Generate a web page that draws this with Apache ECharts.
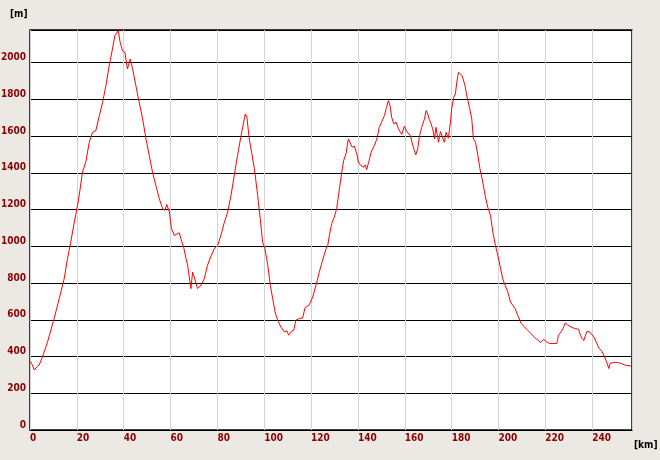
<!DOCTYPE html>
<html>
<head>
<meta charset="utf-8">
<script src="https://cdn.jsdelivr.net/npm/echarts@6/dist/echarts.min.js"></script>
<style>html,body{margin:0;padding:0;background:#ECE9E4;}#c{width:660px;height:460px;}</style>
</head>
<body>
<div id="c"></div>
<script>
var distanceKm = [0,1,1.8,3,3.9,5.3,7.5,10.3,12.5,14.6,16,17.4,18.9,20.3,21.4,22.4,23.8,25.3,26.7,28.1,29.6,31,32.4,33.8,35.2,36.2,37.7,38.5,39.5,40.5,41.6,42.8,43.8,45.2,46.6,48.1,49.5,50.9,52.3,53.7,55.2,56.6,57.6,58.4,59.5,60.4,61.6,62.3,63.7,64.4,65.6,66.6,67.3,68.1,68.4,68.7,69.4,70.1,71.5,73,74.4,75.8,77.2,78.7,80.1,81.5,83,84.4,85.8,87.2,88.6,90.1,91.2,91.9,92.6,93.6,94.6,95.8,97.2,98.3,99.3,100.3,101.5,102.6,103.6,104.6,105.7,107.1,108.6,109.7,110.4,111.7,112.6,113.5,115,116.4,117.4,119.3,120.7,122.1,123.5,124.9,126.4,127.1,127.8,128.8,129.9,130.9,132.1,133.1,133.9,134.9,135.9,136.6,137.5,138.5,139.5,140.2,141.3,142.5,143.2,143.7,144.6,145.6,147,148.1,149.1,150.1,151.3,152.2,153,153.7,154.4,155.3,156.3,156.7,157.3,158.1,158.7,159.8,160.8,161.6,162.4,163.4,164.1,164.7,165.5,166.3,167.2,168.4,169.1,169.8,170.5,171,171.9,172.7,173.3,174.4,175.2,175.9,176.9,177.6,178.6,179.5,180,180.9,181.6,182.2,182.9,183.6,184.5,185.2,185.7,186.6,187.6,188.6,189.3,190.2,191.2,192.1,193.3,194.3,195.4,196.6,197.6,198.7,199.7,200.9,201.8,202.8,204,205.1,206.1,207.1,208.2,209.7,211.1,212.5,213.9,215.4,216.8,217.9,219.3,220.5,221.8,223.2,224.9,225.6,226.7,227.5,228.5,229.6,231,232.5,234.2,235,235.7,236.4,237.2,237.8,238.9,239.6,240.7,241.9,242.8,244.1,245.3,246.4,247.1,247.6,249.3,250.7,252.4,254.1,255.7,256.8];
var elevationM = [375,355,326,345,353,398,480,607,716,824,933,1023,1132,1223,1313,1404,1458,1567,1621,1630,1712,1784,1875,1984,2074,2147,2174,2110,2065,2056,1966,2020,1966,1875,1784,1694,1585,1495,1404,1332,1259,1205,1196,1228,1187,1096,1060,1051,1074,1042,996,933,897,906,797,770,860,833,770,788,824,897,946,987,1005,1060,1132,1187,1277,1386,1495,1603,1676,1721,1703,1585,1513,1422,1277,1150,1023,987,897,788,716,643,598,561,534,540,516,538,543,598,607,610,665,683,725,788,860,924,987,1005,1060,1123,1159,1205,1313,1404,1467,1504,1585,1576,1540,1545,1504,1458,1440,1431,1444,1418,1458,1513,1549,1585,1648,1676,1712,1757,1793,1766,1703,1667,1676,1685,1640,1621,1609,1654,1625,1630,1603,1549,1522,1498,1531,1603,1648,1694,1739,1721,1690,1676,1640,1585,1648,1567,1625,1621,1567,1621,1589,1676,1748,1812,1830,1893,1948,1939,1929,1929,1875,1812,1757,1694,1585,1567,1495,1422,1350,1277,1214,1168,1078,1005,951,879,824,788,752,697,679,661,625,580,561,543,525,504,489,477,493,480,471,471,471,516,534,552,583,571,561,552,549,516,498,487,516,538,534,534,507,474,447,429,398,362,335,362,368,368,362,353,350,348];
var xMax = 257, yMax = 2178;
var xInterval = 20, yInterval = 200;
var yUnit = '[m]', xUnit = '[km]';

var points = distanceKm.map(function (d, i) { return [d, elevationM[i]]; });
var labelStyle = { color: '#8B0000', fontFamily: 'DejaVu Sans Condensed', fontWeight: 'bold', fontSize: 10 };

var chart = echarts.init(document.getElementById('c'), null, { renderer: 'canvas' });
chart.setOption({
  backgroundColor: '#ECE9E4',
  animation: false,
  grid: { left: 30, right: 28, top: 30, bottom: 30, containLabel: false, outerBoundsMode: 'none', show: true, backgroundColor: '#ffffff', borderColor: '#000000', borderWidth: 1.5 },
  graphic: [
    { type: 'text', left: 10, top: 9, style: Object.assign({ text: yUnit }, labelStyle) },
    { type: 'text', left: 634, top: 440, style: Object.assign({ text: xUnit }, labelStyle) }
  ],
  xAxis: {
    type: 'value', min: 0, max: xMax, interval: xInterval,
    axisLine: { show: false }, axisTick: { show: false },
    axisLabel: Object.assign({ showMaxLabel: false, align: 'left', margin: 3, formatter: function (v) { return String(v); } }, labelStyle),
    splitLine: { show: true, lineStyle: { color: '#D3D3D3', width: 1 } }
  },
  yAxis: {
    type: 'value', min: 0, max: yMax, interval: yInterval,
    axisLine: { show: false }, axisTick: { show: false },
    axisLabel: Object.assign({ showMaxLabel: false, verticalAlign: 'bottom', margin: 4, lineHeight: 10, formatter: function (v) { return String(v); } }, labelStyle),
    splitLine: { show: true, lineStyle: { color: '#000000', width: 1 } }
  },
  series: [{
    type: 'line', data: points, showSymbol: false, symbol: 'none',
    lineStyle: { color: '#FF0000', width: 1 }, z: 5
  }]
});
</script>
</body>
</html>
